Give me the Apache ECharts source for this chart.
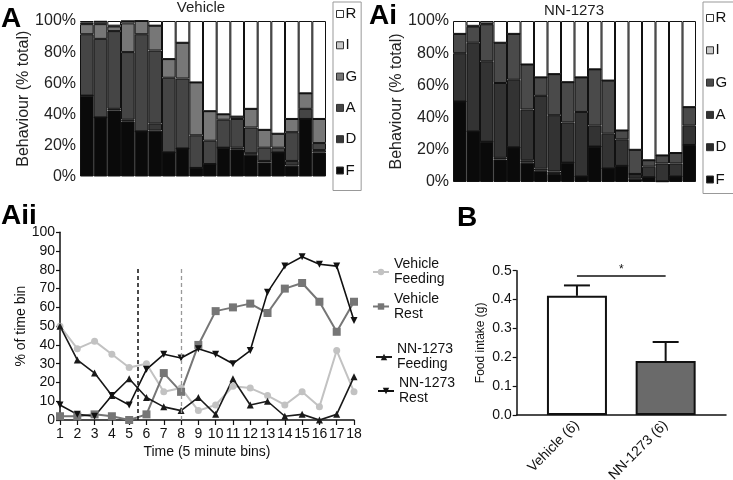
<!DOCTYPE html>
<html><head><meta charset="utf-8">
<script src="https://cdn.jsdelivr.net/npm/echarts@6/dist/echarts.min.js"></script>
<style>html,body{margin:0;padding:0;background:#fff}#c{width:733px;height:480px}</style>
</head><body><div id="c"></div>
<script>
// ---------- Data ----------
const bins = ['1','2','3','4','5','6','7','8','9','10','11','12','13','14','15','16','17','18'];
const behaviourOrder = ['F','D','A','G','I','R'];   // stacking order bottom -> top
const legendOrder = ['R','I','G','A','D','F'];

// Vehicle (% of time bin)
const vehF = [52,38,42.5,35.5,29,29.5,15.5,18,5.5,8,18.5,17.5,14,9,15.5,7,37,15.5];
const vehD = [0,0,1,1,0,4.5,0,0,0,0,0,1,1,1,0,3,0,1.5];
const vehA = [39.5,50.5,50,43.5,62.5,47,48,45,21,15,18,18.5,16.5,8.5,3,18.5,6.5,4.5];
const vehG = [6.5,9.5,3,18.5,8.5,16,12,23,34,19,3.5,1.5,12,11.5,9,8.5,10,15.5];
const vehI = [1,1.5,0.5,1.5,0,0,0,0,0,0,0,0,0,0,0,0,0,0];
const vehR = [1,0.5,3,0,0,3,24.5,14,39.5,58,60,61.5,56.5,70,72.5,63,46.5,63];

// NN-1273 (% of time bin)
const nnF = [50,31.5,25,14,21.5,12,7,5,12,3.5,22,8.5,10,2,3,0.5,3.5,23];
const nnD = [0,0,0,1,0,1.5,1.5,1.5,0,0,0,0,0,3,0,0,0,0];
const nnA = [30,55,50,46.5,42,31.5,45,35,25,40,13,21.5,16.5,0,6.5,11,8,12];
const nnG = [12,10,23,25,28.5,28,11.5,25.5,25,21.5,35,33,5.5,15,4,5,6.5,11.5];
const nnI = [0,0.5,0.5,0,0,0,0,0,0,0,0,0,0,0,0,0,0,0];
const nnR = [8,3,1.5,13.5,8,27,35,33,38,35,30,37,68,80,86.5,83.5,82,53.5];

// Aii time course
const timeBins = [1,2,3,4,5,6,7,8,9,10,11,12,13,14,15,16,17,18];
const vehFeeding = [50,38,42,35,28,30,15,17,5,8,18,17,13,8,15,7,37,15];
const vehRest    = [2,2,3,2,0,3,25,15,40,58,60,62,57,70,73,63,47,63];
const nnFeeding  = [50,32,25,13,22,12,7,5,12,3,22,8,10,2,3,0,3,23];
const nnRest     = [8,3,2,13,8,27,35,33,38,35,30,37,68,82,87,83,82,53];
const markerBins = [5.5, 8];
const markerTop = 81;

// B food intake
const intakeGroups = ['Vehicle (6)','NN-1273 (6)'];
const intakeMean = [0.413, 0.187];
const intakeSEM  = [0.036, 0.066];
const sigLevel = 0.482;

// ---------- Styles ----------
const FONT = '"Liberation Sans", Arial, sans-serif';
const vehColors = {F:'#0a0a0a', D:'#383838', A:'#454545', G:'#777777', I:'#c8c8c8', R:'#ffffff'};
const nnColors  = {F:'#0a0a0a', D:'#2c2c2c', A:'#333333', G:'#4a4a4a', I:'#c8c8c8', R:'#ffffff'};
const vehData = {F:vehF, D:vehD, A:vehA, G:vehG, I:vehI, R:vehR};
const nnData  = {F:nnF, D:nnD, A:nnA, G:nnG, I:nnI, R:nnR};

function stack(dataMap, colors, gi) {
  return behaviourOrder.map(k => ({
    type:'bar', name:k, xAxisIndex:gi, yAxisIndex:gi, stack:'s'+gi,
    data:dataMap[k], barWidth:'100%', silent:true,
    itemStyle:{color:colors[k], borderColor:'#111', borderWidth:1}
  }));
}
function behLegend(colors, left, top, gap, pad) {
  return {
    orient:'vertical', left:left, top:top, itemWidth:7, itemHeight:7, itemGap:gap,
    padding:pad, borderColor:'#999', borderWidth:1, selectedMode:false, icon:'rect',
    textStyle:{fontFamily:FONT, fontSize:15, color:'#111', lineHeight:16, padding:[0,0,0,-3]},
    data: legendOrder.map(n => ({name:n, itemStyle:{color:colors[n], borderColor:'#333', borderWidth:1}}))
  };
}
function lineLegend(name, left, top) {
  return {
    left:left, top:top, itemWidth:16, itemHeight:8, padding:0, selectedMode:false,
    formatter: n => n.replace(' ', '\n'),
    textStyle:{fontFamily:FONT, fontSize:14, color:'#111', lineHeight:15},
    data:[name]
  };
}
const behYAxis = (gi, gap) => ({
  gridIndex:gi, type:'value', min:0, max:100, interval:20,
  axisLine:{show:false}, axisTick:{show:false}, splitLine:{show:false},
  axisLabel:{formatter:'{value}%', fontFamily:FONT, fontSize:16, color:'#222', margin:4},
  name:'Behaviour (% total)', nameLocation:'middle', nameRotate:90, nameGap:gap,
  nameTextStyle:{fontFamily:FONT, fontSize:16, color:'#222'}
});
const axLine = {show:true, lineStyle:{color:'#111', width:1.5}};
const axTick = {show:true, length:4, lineStyle:{color:'#111', width:1.2}};
const G = (o) => Object.assign({containLabel:false, outerBoundsMode:'none'}, o);

const option = {
  animation:false,
  backgroundColor:'#fff',
  title:[
    {text:'Vehicle', left:201, top:0, textAlign:'center', padding:0,
     textStyle:{fontFamily:FONT, fontSize:15, fontWeight:'normal', color:'#222'}},
    {text:'NN-1273', left:574, top:3, textAlign:'center', padding:0,
     textStyle:{fontFamily:FONT, fontSize:15, fontWeight:'normal', color:'#222'}}
  ],
  grid:[
    G({left:80, top:21, width:246, height:155.5}),
    G({left:453, top:21, width:243, height:161}),
    G({left:60, top:232.3, width:294, height:187.7}),
    G({left:516.7, top:270.7, width:209.3, height:144.3}),
    G({left:532.6, top:270.7, width:177.4, height:144.3})
  ],
  xAxis:[
    {gridIndex:0, type:'category', data:bins, show:false},
    {gridIndex:1, type:'category', data:bins, show:false},
    {gridIndex:2, type:'value', min:1, max:18, interval:1,
     axisLine:axLine, axisTick:{show:true, length:5, lineStyle:{color:'#111', width:1.2}},
     splitLine:{show:false},
     axisLabel:{fontFamily:FONT, fontSize:14, color:'#111', margin:7},
     name:'Time (5 minute bins)', nameLocation:'middle', nameGap:25,
     nameTextStyle:{fontFamily:FONT, fontSize:14, color:'#111'}},
    {gridIndex:3, type:'value', min:0, max:1, axisLine:axLine, axisTick:{show:false},
     axisLabel:{show:false}, splitLine:{show:false}},
    {gridIndex:4, type:'category', data:intakeGroups, axisLine:{show:false}, axisTick:{show:false},
     axisLabel:{rotate:45, fontFamily:FONT, fontSize:14, color:'#111', margin:8}}
  ],
  yAxis:[
    behYAxis(0, 47),
    behYAxis(1, 48),
    {gridIndex:2, type:'value', min:0, max:100, interval:10, axisLine:axLine, axisTick:axTick,
     splitLine:{show:false},
     axisLabel:{fontFamily:FONT, fontSize:14, color:'#111', margin:5},
     name:'% of time bin', nameLocation:'middle', nameRotate:90, nameGap:31,
     nameTextStyle:{fontFamily:FONT, fontSize:14, color:'#111'}},
    {gridIndex:3, type:'value', min:0, max:0.5, interval:0.1, axisLine:axLine, axisTick:axTick,
     splitLine:{show:false},
     axisLabel:{formatter:v => v.toFixed(1), fontFamily:FONT, fontSize:14, color:'#111', margin:5},
     name:'Food intake (g)', nameLocation:'middle', nameRotate:90, nameGap:30,
     nameTextStyle:{fontFamily:FONT, fontSize:12, color:'#111'}},
    {gridIndex:4, type:'value', min:0, max:0.5, show:false}
  ],
  legend:[
    behLegend(vehColors, 333, 2, 15.3, [4,4,12,3]),
    behLegend(nnColors, 703, 2, 16.3, [8,8,6,3]),
    lineLegend('Vehicle Feeding', 372, 257),
    lineLegend('Vehicle Rest', 372, 291.5),
    lineLegend('NN-1273 Feeding', 375, 342),
    lineLegend('NN-1273 Rest', 377, 376)
  ],
  graphic:[
    {type:'text', left:1, top:5, style:{text:'A', font:'bold 28px '+FONT, fill:'#000'}},
    {type:'text', left:369, top:2, style:{text:'Ai', font:'bold 28px '+FONT, fill:'#000'}},
    {type:'text', left:1, top:202, style:{text:'Aii', font:'bold 28px '+FONT, fill:'#000'}},
    {type:'text', left:457, top:204, style:{text:'B', font:'bold 28px '+FONT, fill:'#000'}}
  ],
  series:[
    ...stack(vehData, vehColors, 0),
    ...stack(nnData, nnColors, 1),
    {type:'line', name:'Vehicle Feeding', xAxisIndex:2, yAxisIndex:2,
     data:timeBins.map((b,i)=>[b, vehFeeding[i]]),
     symbol:'circle', symbolSize:7, itemStyle:{color:'#c2c2c2'}, lineStyle:{color:'#c2c2c2', width:2},
     markLine:{silent:true, symbol:'none', label:{show:false},
       data:[
         [{coord:[markerBins[0],0], lineStyle:{color:'#111', type:[4,3], width:1.5}}, {coord:[markerBins[0],markerTop]}],
         [{coord:[markerBins[1],0], lineStyle:{color:'#999', type:[4,3], width:1.3}}, {coord:[markerBins[1],markerTop]}]
       ]}},
    {type:'line', name:'Vehicle Rest', xAxisIndex:2, yAxisIndex:2,
     data:timeBins.map((b,i)=>[b, vehRest[i]]),
     symbol:'rect', symbolSize:8, itemStyle:{color:'#767676'}, lineStyle:{color:'#767676', width:2}},
    {type:'line', name:'NN-1273 Feeding', xAxisIndex:2, yAxisIndex:2,
     data:timeBins.map((b,i)=>[b, nnFeeding[i]]),
     symbol:'triangle', symbolSize:7, itemStyle:{color:'#1a1a1a'}, lineStyle:{color:'#1a1a1a', width:1.6}},
    {type:'line', name:'NN-1273 Rest', xAxisIndex:2, yAxisIndex:2,
     data:timeBins.map((b,i)=>[b, nnRest[i]]),
     symbol:'triangle', symbolRotate:180, symbolSize:7, itemStyle:{color:'#111'}, lineStyle:{color:'#111', width:1.6}},
    {type:'bar', name:'intake', xAxisIndex:4, yAxisIndex:4, barWidth:60, silent:true,
     data:intakeMean.map((v,i)=>({value:v, itemStyle:{color: i===0 ? '#ffffff' : '#6a6a6a'}})),
     itemStyle:{borderColor:'#111', borderWidth:2},
     markLine:{silent:true, symbol:'none',
       lineStyle:{color:'#111', width:1.5, type:'solid'},
       label:{show:true, position:'middle', formatter:'*', fontFamily:FONT, fontSize:12, color:'#111', distance:0},
       data:[[{coord:[intakeGroups[0], sigLevel]}, {coord:[intakeGroups[1], sigLevel]}]]}},
    {type:'custom', name:'sem', xAxisIndex:4, yAxisIndex:4, silent:true, z:3,
     data:intakeMean.map((v,i)=>[i, v, intakeSEM[i]]),
     renderItem:(params, api) => {
       const x = api.value(0), m = api.value(1), e = api.value(2);
       const p0 = api.coord([x, m]), p1 = api.coord([x, m+e]);
       const cap = 13;
       return {type:'group', children:[
         {type:'line', shape:{x1:p0[0], y1:p0[1], x2:p1[0], y2:p1[1]}, style:{stroke:'#111', lineWidth:2}},
         {type:'line', shape:{x1:p1[0]-cap, y1:p1[1], x2:p1[0]+cap, y2:p1[1]}, style:{stroke:'#111', lineWidth:2}}
       ]};
     }}
  ]
};
const chart = echarts.init(document.getElementById('c'), null, {renderer:'canvas'});
chart.setOption(option);
</script></body></html>
